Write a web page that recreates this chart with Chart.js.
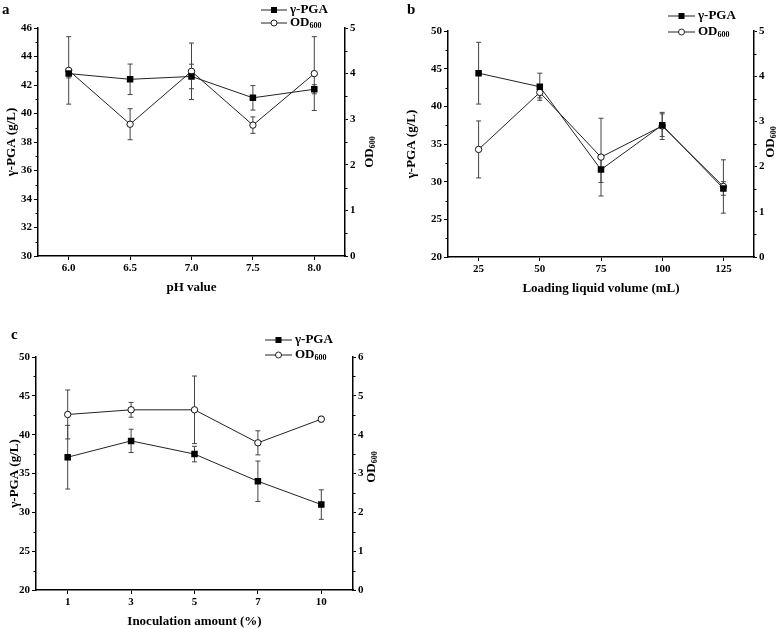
<!DOCTYPE html>
<html lang="en">
<head>
    <meta charset="UTF-8">
    <title>γ-PGA and OD600 under different conditions</title>
    <script src="https://cdn.jsdelivr.net/npm/chart.js"></script>
    <style>
        body { margin: 0; background: #fff; }
        #page { position: relative; width: 784px; height: 629px; overflow: hidden; }
        .panel { position: absolute; }
        .letter { position: absolute; font: bold 15px 'Liberation Serif', serif; color: #000; }
    </style>
</head>
<body>
<div id="page">
    <div class="panel" style="left:0;top:0;"><canvas id="chartA" width="392" height="300"></canvas></div>
    <div class="panel" style="left:392px;top:0;"><canvas id="chartB" width="392" height="300"></canvas></div>
    <div class="panel" style="left:0;top:300px;"><canvas id="chartC" width="392" height="329"></canvas></div>
    <div class="letter" style="left:2px;top:1px;">a</div>
    <div class="letter" style="left:407px;top:1px;">b</div>
    <div class="letter" style="left:11px;top:326px;">c</div>
</div>

<script>
    // (a) pH value
    const phLabels = ['6.0', '6.5', '7.0', '7.5', '8.0'];
    const phPGA = [42.8, 42.4, 42.6, 41.1, 41.7];
    const phPGAErr = [0.3, 1.07, 0.86, 0.86, 0.32];
    const phOD = [4.07, 2.89, 4.05, 2.87, 4.0];
    const phODErr = [0.74, 0.34, 0.62, 0.18, 0.81];

    // (b) loading liquid volume
    const volLabels = ['25', '50', '75', '100', '125'];
    const volPGA = [44.4, 42.6, 31.6, 37.5, 29.1];
    const volPGAErr = [4.1, 1.8, 1.7, 1.5, 0.9];
    const volOD = [2.38, 3.64, 2.21, 2.9, 1.56];
    const volODErr = [0.63, 0.12, 0.86, 0.3, 0.59];

    // (c) inoculation amount
    const inocLabels = ['1', '3', '5', '7', '10'];
    const inocPGA = [37.1, 39.2, 37.5, 34.0, 31.0];
    const inocPGAErr = [4.1, 1.5, 1.0, 2.6, 1.9];
    const inocOD = [4.52, 4.64, 4.64, 3.79, 4.40];
    const inocODErr = [0.63, 0.19, 0.87, 0.31, 0.07];

    const FAMILY = "'Liberation Serif', 'Times New Roman', serif";
    const tickFont = { family: FAMILY, size: 11, weight: 'bold' };
    const titleFont = { family: FAMILY, size: 13, weight: 'bold' };

    // draws OD + subscript 600, at (x, y) baseline-left, in current transform
    function drawOD(ctx, x, y, size) {
        ctx.font = 'bold ' + size + 'px ' + FAMILY;
        ctx.fillText('OD', x, y);
        const w = ctx.measureText('OD').width;
        ctx.font = 'bold ' + Math.round(size * 0.62) + 'px ' + FAMILY;
        ctx.fillText('600', x + w, y + size * 0.25);
        return w + ctx.measureText('600').width;
    }

    function makePanel(id, cfg) {
        const canvas = document.getElementById(id);
        const W = canvas.width, H = canvas.height;
        const area = cfg.area;

        // error bars under the markers
        const errorBars = {
            id: 'errorBars',
            beforeDatasetsDraw(chart) {
                const ctx = chart.ctx;
                ctx.save();
                ctx.strokeStyle = '#444';
                ctx.lineWidth = 1;
                chart.data.datasets.forEach((ds, di) => {
                    const meta = chart.getDatasetMeta(di);
                    const scale = chart.scales[ds.yAxisID];
                    meta.data.forEach((pt, i) => {
                        const v = ds.data[i], e = ds.errors[i];
                        const y0 = scale.getPixelForValue(v - e);
                        const y1 = scale.getPixelForValue(v + e);
                        ctx.beginPath();
                        ctx.moveTo(pt.x, y0); ctx.lineTo(pt.x, y1);
                        ctx.moveTo(pt.x - 2.5, y0); ctx.lineTo(pt.x + 2.5, y0);
                        ctx.moveTo(pt.x - 2.5, y1); ctx.lineTo(pt.x + 2.5, y1);
                        ctx.stroke();
                    });
                });
                ctx.restore();
            }
        };

        // short minor ticks between labelled ticks
        const minorTicks = {
            id: 'minorTicks',
            afterDraw(chart) {
                const ctx = chart.ctx;
                ctx.save();
                ctx.strokeStyle = '#000';
                ctx.lineWidth = 1;
                [['y', cfg.leftStep, -1], ['y1', 1, 1]].forEach(([sid, step, dir]) => {
                    const s = chart.scales[sid];
                    const xEdge = dir < 0 ? chart.chartArea.left : chart.chartArea.right;
                    for (let v = s.min + step / 2; v < s.max; v += step) {
                        const py = Math.round(s.getPixelForValue(v)) + 0.5;
                        ctx.beginPath();
                        ctx.moveTo(xEdge, py);
                        ctx.lineTo(xEdge + dir * 2.5, py);
                        ctx.stroke();
                    }
                });
                ctx.restore();
            }
        };

        // legend and right-hand title with subscript
        const extras = {
            id: 'extras',
            afterDraw(chart) {
                const ctx = chart.ctx;
                const L = cfg.legend;
                ctx.save();
                ctx.fillStyle = '#000';
                ctx.strokeStyle = '#222';
                ctx.lineWidth = 1;
                [L.y1, L.y2].forEach((ly, k) => {
                    ctx.beginPath();
                    ctx.moveTo(L.x0, ly); ctx.lineTo(L.x1, ly);
                    ctx.stroke();
                    const mx = (L.x0 + L.x1) / 2;
                    if (k === 0) {
                        ctx.fillStyle = '#000';
                        ctx.fillRect(mx - 3, ly - 3, 6, 6);
                    } else {
                        ctx.beginPath();
                        ctx.arc(mx, ly, 3, 0, Math.PI * 2);
                        ctx.fillStyle = '#fff';
                        ctx.fill();
                        ctx.stroke();
                    }
                });
                ctx.fillStyle = '#000';
                ctx.textBaseline = 'middle';
                ctx.textAlign = 'left';
                ctx.font = 'bold 13px ' + FAMILY;
                ctx.fillText('γ-PGA', L.x1 + 3, L.y1);
                drawOD(ctx, L.x1 + 3, L.y2, 13);

                // right axis title, reading upwards
                ctx.translate(cfg.rtX, cfg.rtY);
                ctx.rotate(-Math.PI / 2);
                ctx.font = 'bold 13px ' + FAMILY;
                let w = ctx.measureText('OD').width;
                ctx.font = 'bold 8px ' + FAMILY;
                w += ctx.measureText('600').width;
                ctx.textBaseline = 'middle';
                drawOD(ctx, -w / 2, 0, 13);
                ctx.restore();
            }
        };

        const axisGrid = { display: true, drawOnChartArea: false, tickLength: 4, color: '#000', lineWidth: 1 };
        const axisBorder = { display: true, color: '#000', width: 1.5 };

        return new Chart(canvas, {
            type: 'line',
            data: {
                labels: cfg.labels,
                datasets: [{
                    label: 'γ-PGA',
                    data: cfg.pga,
                    errors: cfg.pgaErr,
                    yAxisID: 'y',
                    borderColor: '#222',
                    borderWidth: 1,
                    pointStyle: 'rect',
                    pointRadius: 4.6,
                    pointBackgroundColor: '#000',
                    pointBorderColor: '#000',
                    pointBorderWidth: 0,
                    tension: 0
                }, {
                    label: 'OD600',
                    data: cfg.od,
                    errors: cfg.odErr,
                    yAxisID: 'y1',
                    borderColor: '#222',
                    borderWidth: 1,
                    pointStyle: 'circle',
                    pointRadius: 3.2,
                    pointBackgroundColor: '#fff',
                    pointBorderColor: '#111',
                    pointBorderWidth: 1,
                    tension: 0
                }]
            },
            options: {
                responsive: false,
                animation: false,
                events: [],
                layout: { padding: { top: area.top, left: 0, right: 0, bottom: 0 } },
                plugins: { legend: { display: false }, tooltip: { enabled: false } },
                scales: {
                    x: {
                        type: 'category',
                        offset: true,
                        grid: axisGrid,
                        border: axisBorder,
                        ticks: { color: '#000', font: tickFont, padding: 2, maxRotation: 0 },
                        title: { display: true, text: cfg.xTitle, color: '#000', font: titleFont,
                                 padding: { top: 0, bottom: cfg.xTitlePad } },
                        afterFit(s) { s.height = H - area.bottom; s.paddingLeft = 0; s.paddingRight = 0; }
                    },
                    y: {
                        position: 'left',
                        min: cfg.leftMin,
                        max: cfg.leftMax,
                        grid: axisGrid,
                        border: axisBorder,
                        ticks: { stepSize: cfg.leftStep, color: '#000', font: tickFont, padding: 2 },
                        title: { display: true, text: 'γ-PGA (g/L)', color: '#000', font: titleFont,
                                 padding: { top: cfg.yTitlePad, bottom: 0 } },
                        afterFit(s) { s.width = area.left; s.paddingTop = 0; s.paddingBottom = 0; }
                    },
                    y1: {
                        position: 'right',
                        min: 0,
                        max: cfg.odMax,
                        grid: Object.assign({}, axisGrid, { tickLength: 3 }),
                        border: axisBorder,
                        ticks: { stepSize: 1, color: '#000', font: tickFont, padding: 2 },
                        afterFit(s) { s.width = W - area.right; s.paddingTop = 0; s.paddingBottom = 0; }
                    }
                }
            },
            plugins: [errorBars, minorTicks, extras]
        });
    }

    makePanel('chartA', {
        labels: phLabels, pga: phPGA, pgaErr: phPGAErr, od: phOD, odErr: phODErr,
        leftMin: 30, leftMax: 46, leftStep: 2, odMax: 5,
        area: { left: 38, right: 345, top: 28, bottom: 256 },
        xTitle: 'pH value', xTitlePad: 5, yTitlePad: 4,
        legend: { x0: 261, x1: 287, y1: 10, y2: 23 },
        rtX: 370, rtY: 152
    });

    makePanel('chartB', {
        labels: volLabels, pga: volPGA, pgaErr: volPGAErr, od: volOD, odErr: volODErr,
        leftMin: 20, leftMax: 50, leftStep: 5, odMax: 5,
        area: { left: 56, right: 362, top: 31, bottom: 257 },
        xTitle: 'Loading liquid volume (mL)', xTitlePad: 4, yTitlePad: 12,
        legend: { x0: 276, x1: 303, y1: 16, y2: 32 },
        rtX: 379, rtY: 142
    });

    makePanel('chartC', {
        labels: inocLabels, pga: inocPGA, pgaErr: inocPGAErr, od: inocOD, odErr: inocODErr,
        leftMin: 20, leftMax: 50, leftStep: 5, odMax: 6,
        area: { left: 36, right: 353, top: 57, bottom: 290 },
        xTitle: 'Inoculation amount (%)', xTitlePad: 0, yTitlePad: 7,
        legend: { x0: 265, x1: 292, y1: 40, y2: 55 },
        rtX: 372, rtY: 167
    });
</script>
</body>
</html>
